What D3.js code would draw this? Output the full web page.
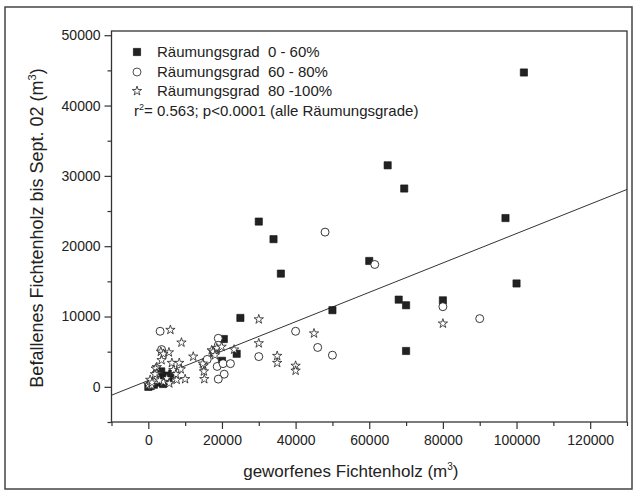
<!DOCTYPE html>
<html>
<head>
<meta charset="utf-8">
<script src="https://cdn.jsdelivr.net/npm/d3@7"></script>
<style>
  body { margin: 0; background: #fff; }
  svg text { font-family: "Liberation Sans", Arial, sans-serif; fill: #222; }
</style>
</head>
<body>
<div id="chart"></div>
<script>
// Räumungsgrad 0 - 60% (filled squares)
const sqX = [65000, 69500, 30000, 34000, 36000, 97000, 60000, 100000, 68000, 70000, 80000, 50000, 70000, 25000, 24000, 20500, 20000, 102000,
             3000, 4500, 5500, 2500, 4000, 6500, 1500, 500, 0, 3500];
const sqY = [31500, 28200, 23500, 21000, 16100, 24000, 17900, 14700, 12400, 11600, 12300, 10900, 5100, 9800, 4700, 6800, 3700, 44700,
             1300, 1600, 900, 600, 400, 1900, 300, 100, 0, 2200];

// Räumungsgrad 60 - 80% (open circles)
const ciX = [48000, 61500, 80000, 90000, 40000, 46000, 50000, 30000, 3200, 3600, 19000, 19000, 16000, 18700, 20300, 22300, 20600, 19000, 500, 2000];
const ciY = [22000, 17400, 11400, 9700, 7900, 5600, 4500, 4300, 7900, 5300, 6900, 5900, 3900, 2900, 3300, 3300, 1800, 1100, 300, 1000];

// Räumungsgrad 80 - 100% (stars)
const stX = [30000, 30000, 35000, 35000, 40000, 40000, 45000, 80000, 6000, 9000, 12200, 5600, 3400, 4100, 3600, 2300, 2000, 2300,
             6400, 8400, 6800, 8800, 10000, 7700, 5000, 500, 1800, 0, 900, 4100, 5700, 15000, 15100, 15200, 14800,
             17200, 17800, 18600, 19900, 23300, 17600, 18100, 1000, 3000, 7500];
const stY = [9600, 6200, 4400, 3400, 3000, 2300, 7600, 9000, 8100, 6300, 4300, 4900, 5000, 4700, 3800, 2800, 2600, 1900,
             3400, 3400, 2400, 2500, 1100, 1000, 1200, 1000, 1800, 300, 200, 700, 500, 3000, 2200, 1100, 3300,
             5200, 4800, 5500, 5700, 5300, 5000, 4500, 600, 900, 1800];

// regression (alle Räumungsgrade)
const regIntercept = 900;
const regSlope = 0.209;

const legendLabels = ["Räumungsgrad  0 - 60%", "Räumungsgrad  60 - 80%", "Räumungsgrad  80 -100%"];
const xMajor = [0, 20000, 40000, 60000, 80000, 100000, 120000];
const xMinor = [-10000, 10000, 30000, 50000, 70000, 90000, 110000, 130000];
const yMajor = [0, 10000, 20000, 30000, 40000, 50000];
const yMinor = [-5000, 5000, 15000, 25000, 35000, 45000];

const W = 635, H = 490;
const margin = {top: 31, right: 8, bottom: 68, left: 111.5};
const width = W - margin.left - margin.right;
const height = H - margin.top - margin.bottom;

const root = d3.select("#chart").append("svg")
    .attr("width", W)
    .attr("height", H);

// outer frame of the figure
root.append("rect")
    .attr("x", 5).attr("y", 7)
    .attr("width", 627).attr("height", 482)
    .attr("fill", "none")
    .attr("stroke", "#444")
    .attr("stroke-width", 1.5);

const svg = root.append("g")
    .attr("transform", `translate(${margin.left},${margin.top})`);

const x = d3.scaleLinear().domain([-10000, 130000]).range([0, width]);
const y = d3.scaleLinear().domain([-5000, 50600]).range([height, 0]);

// axes
const xAxis = svg.append("g")
    .attr("transform", `translate(0,${height})`)
    .call(d3.axisBottom(x).tickValues(xMajor).tickSize(7).tickPadding(6).tickFormat(d3.format("d")));
const xAxisMinor = svg.append("g")
    .attr("transform", `translate(0,${height})`)
    .call(d3.axisBottom(x).tickValues(xMinor).tickSize(4).tickFormat(""));
const yAxis = svg.append("g")
    .call(d3.axisLeft(y).tickValues(yMajor).tickSize(7).tickPadding(4).tickFormat(d3.format("d")));
const yAxisMinor = svg.append("g")
    .call(d3.axisLeft(y).tickValues(yMinor).tickSize(4).tickFormat(""));

[xAxis, xAxisMinor, yAxis, yAxisMinor].forEach(g => {
    g.select(".domain").remove();
    g.selectAll("line").attr("stroke", "#333").attr("stroke-width", 1.2);
    g.selectAll("text").style("font-size", "14px").style("font-family", "Liberation Sans, Arial, sans-serif").attr("fill", "#222");
});

// plot frame
svg.append("rect")
    .attr("width", width)
    .attr("height", height)
    .attr("fill", "none")
    .attr("stroke", "#333")
    .attr("stroke-width", 1.3);

// regression line
svg.append("clipPath").attr("id", "clip")
    .append("rect").attr("width", width).attr("height", height);
svg.append("line")
    .attr("clip-path", "url(#clip)")
    .attr("x1", x(-10000)).attr("y1", y(regIntercept + regSlope * -10000))
    .attr("x2", x(130000)).attr("y2", y(regIntercept + regSlope * 130000))
    .attr("stroke", "#333")
    .attr("stroke-width", 1);

const symSquare = d3.symbol().type(d3.symbolSquare).size(52);
const symCircle = d3.symbol().type(d3.symbolCircle).size(50);
const symStar = d3.symbol().type(d3.symbolStar).size(27);

// points
svg.selectAll(".sq")
    .data(d3.range(sqX.length))
    .enter().append("path")
    .attr("class", "sq")
    .attr("d", symSquare)
    .attr("transform", i => `translate(${x(sqX[i])},${y(sqY[i])})`)
    .attr("fill", "#222")
    .attr("stroke", "#111")
    .attr("stroke-width", 0.6);

svg.selectAll(".ci")
    .data(d3.range(ciX.length))
    .enter().append("path")
    .attr("class", "ci")
    .attr("d", symCircle)
    .attr("transform", i => `translate(${x(ciX[i])},${y(ciY[i])})`)
    .attr("fill", "#fff")
    .attr("stroke", "#222")
    .attr("stroke-width", 0.9);

svg.selectAll(".st")
    .data(d3.range(stX.length))
    .enter().append("path")
    .attr("class", "st")
    .attr("d", symStar)
    .attr("transform", i => `translate(${x(stX[i])},${y(stY[i])})`)
    .attr("fill", "#fff")
    .attr("stroke", "#222")
    .attr("stroke-width", 0.8);

// legend
const legend = root.append("g");
const legendSyms = [symSquare, symCircle, symStar];
const legendRows = [52, 72, 91];
legendLabels.forEach((lab, i) => {
    legend.append("path")
        .attr("d", legendSyms[i])
        .attr("transform", `translate(137,${legendRows[i]})`)
        .attr("fill", i === 0 ? "#222" : "#fff")
        .attr("stroke", "#222")
        .attr("stroke-width", 0.8);
    legend.append("text")
        .attr("x", 157)
        .attr("y", legendRows[i] + 5)
        .style("font-size", "15px")
        .style("white-space", "pre")
        .attr("xml:space", "preserve")
        .text(lab);
});

const r2 = legend.append("text")
    .attr("x", 134)
    .attr("y", 116)
    .style("font-size", "15px");
r2.append("tspan").text("r");
r2.append("tspan").attr("dy", -6).style("font-size", "9px").text("2");
r2.append("tspan").attr("dy", 6).text("= 0.563; p<0.0001 (alle Räumungsgrade)");

// X axis label
const xl = root.append("text")
    .attr("x", margin.left + x(55000))
    .attr("y", 477)
    .attr("text-anchor", "middle")
    .style("font-size", "17px");
xl.append("tspan").text("geworfenes Fichtenholz (m");
xl.append("tspan").attr("dy", -7).style("font-size", "10px").text("3");
xl.append("tspan").attr("dy", 7).text(")");

// Y axis label
const yl = root.append("text")
    .attr("transform", "translate(43,228) rotate(-90)")
    .attr("text-anchor", "middle")
    .style("font-size", "18px");
yl.append("tspan").text("Befallenes Fichtenholz bis Sept. 02 (m");
yl.append("tspan").attr("dy", -7).style("font-size", "11px").text("3");
yl.append("tspan").attr("dy", 7).text(")");
</script>
</body>
</html>
